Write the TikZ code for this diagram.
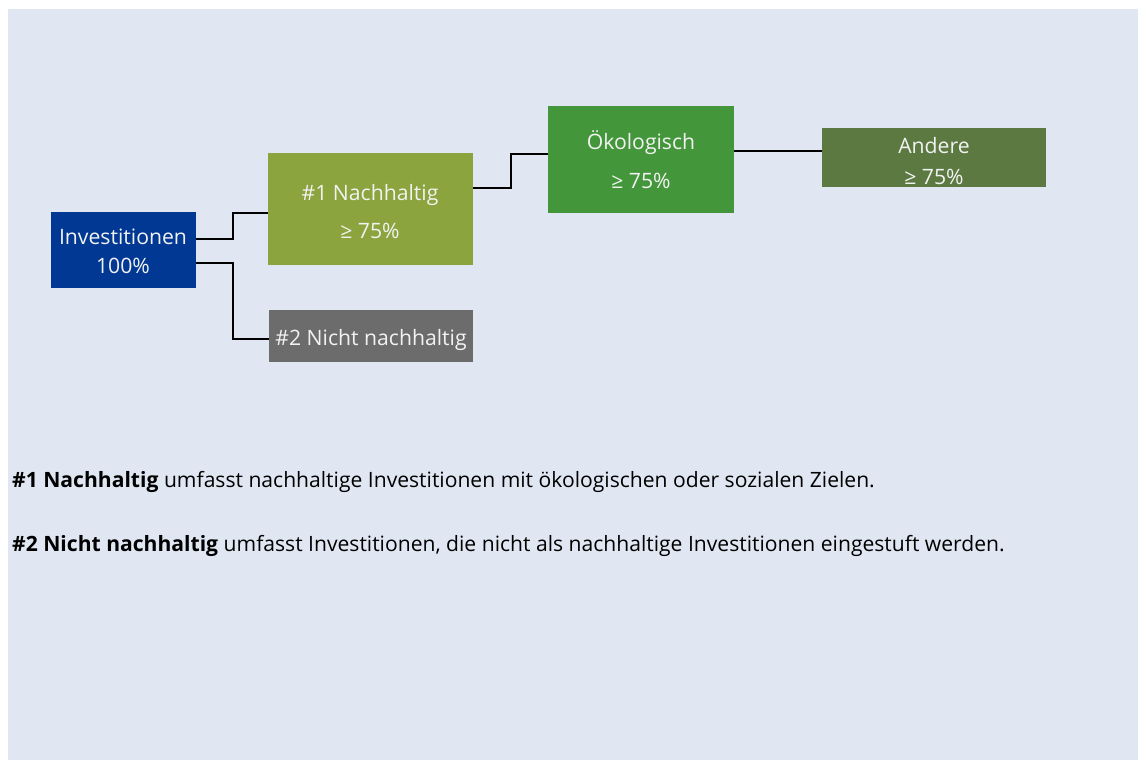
\documentclass[tikz,border=0pt]{standalone}
\usepackage{fontspec}
\setmainfont{Open Sans}
\usetikzlibrary{calc}
\definecolor{bgblue}{HTML}{E0E7F2}
\definecolor{invblue}{HTML}{003893}
\definecolor{nachgreen}{HTML}{8BA43D}
\definecolor{nichtgray}{HTML}{6C6C6C}
\definecolor{oekogreen}{HTML}{43973A}
\definecolor{andgreen}{HTML}{5B7941}
\definecolor{boxtext}{HTML}{F2F2F2}
\begin{document}
\begin{tikzpicture}[x=1pt,y=-1pt,
  boxnode/.style={rectangle, inner sep=0pt, outer sep=0pt, anchor=north west},
  boxlabel/.style={anchor=base, inner sep=0pt, text=boxtext, font=\fontsize{21.2}{25}\selectfont},
  conn/.style={draw=black, line width=2.6pt},
  note/.style={anchor=base west, inner sep=0pt, font=\fontsize{21.1}{25}\selectfont}]
\useasboundingbox (0,0) rectangle (1146,760);
\fill[bgblue] (8,9) rectangle (1138,760);
% boxes
\node[boxnode, fill=invblue, minimum width=145pt, minimum height=76pt] (inv) at (51,212) {};
\node[boxnode, fill=nachgreen, minimum width=205pt, minimum height=112pt] (n1) at (268,153) {};
\node[boxnode, fill=nichtgray, minimum width=204pt, minimum height=52pt] (n2) at (269,310) {};
\node[boxnode, fill=oekogreen, minimum width=186pt, minimum height=107pt] (ok) at (548,106) {};
\node[boxnode, fill=andgreen, minimum width=224pt, minimum height=59pt] (and) at (822,128) {};
% labels
\node[boxlabel] (invt1) at (123,244) {Investitionen};
\node[boxlabel] (invt2) at (123,273) {100\%};
\node[boxlabel] (n1t1) at (370,200) {\#1 Nachhaltig};
\node[boxlabel] (n1t2) at (370,238) {≥ 75\%};
\node[boxlabel] (n2t1) at (371,345) {\#2 Nicht nachhaltig};
\node[boxlabel] (okt1) at (641,149) {Ökologisch};
\node[boxlabel] (okt2) at (641,188) {≥ 75\%};
\node[boxlabel] (andt1) at (934,153) {Andere};
\node[boxlabel] (andt2) at (934,184) {≥ 75\%};
% connectors
\draw[conn] ($(inv.east)+(0,-11)$) -- ++(37,0) |- ($(n1.west)+(0,4)$);
\draw[conn] ($(inv.east)+(0,13)$) -- ++(37,0) |- ($(n2.west)+(0,3)$);
\draw[conn] ($(n1.east)+(0,-21)$) -- ++(38,0) |- ($(ok.west)+(0,-5.5)$);
\draw[conn] ($(ok.east)+(0,-8.5)$) -- ($(and.west)+(0,-6.5)$);
% notes
\node[note] (note1) at (12,487) {\textbf{\#1 Nachhaltig} umfasst nachhaltige Investitionen mit ökologischen oder sozialen Zielen.};
\node[note] (note2) at (12,551) {\textbf{\#2 Nicht nachhaltig} umfasst Investitionen, die nicht als nachhaltige Investitionen eingestuft werden.};
\end{tikzpicture}
\end{document}
